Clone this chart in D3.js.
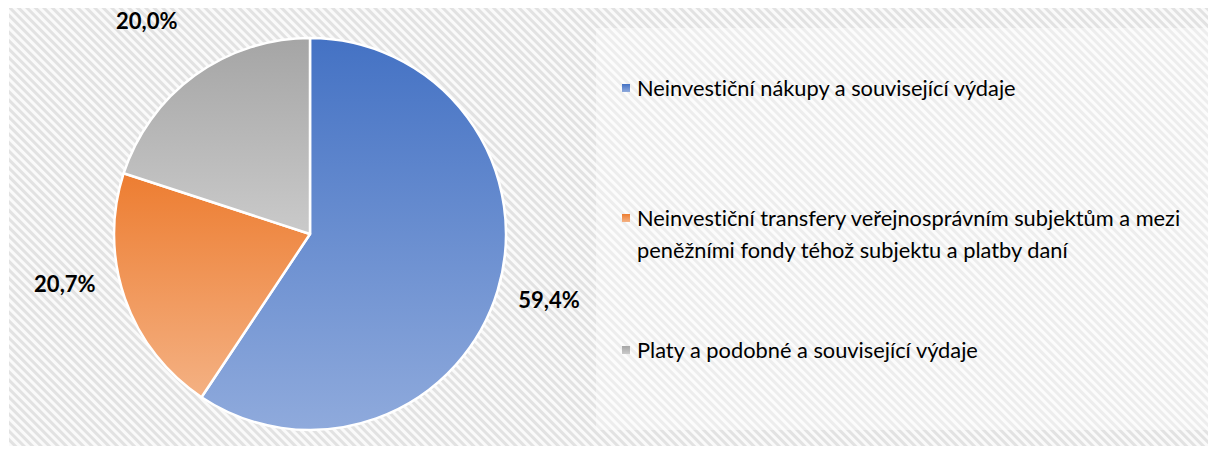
<!DOCTYPE html>
<html>
<head>
<meta charset="utf-8">
<script src="https://cdnjs.cloudflare.com/ajax/libs/d3/7.8.5/d3.min.js"></script>
<style>
  body { margin: 0; background: #fff; }
  svg { display: block; }
  text { font-variant-ligatures: none; }
</style>
</head>
<body>
<div id="chart"></div>
<script>
// data
var categories = ["Neinvestiční nákupy a související výdaje",
    "Neinvestiční transfery veřejnosprávním subjektům a mezi peněžními fondy téhož subjektu a platby daní",
    "Platy a podobné a související výdaje"];
var legendLines = [["Neinvestiční nákupy a související výdaje"],
    ["Neinvestiční transfery veřejnosprávním subjektům a mezi", "peněžními fondy téhož subjektu a platby daní"],
    ["Platy a podobné a související výdaje"]];
var values = [59.4, 20.7, 20.0];
var valueLabels = ["59,4%", "20,7%", "20,0%"];
var colorsTop = ["#4472C4", "#ED7D31", "#A5A5A5"];
var colorsBottom = ["#8FAADC", "#F4B183", "#CACACA"];

var width = 1216, height = 454;
var svg = d3.select("#chart").append("svg").attr("width", width).attr("height", height);
var defs = svg.append("defs");

// hatched background
var pat = defs.append("pattern")
    .attr("id", "hatch")
    .attr("patternUnits", "userSpaceOnUse")
    .attr("width", 6).attr("height", 6)
    .attr("patternTransform", "rotate(-45)");
pat.append("rect").attr("width", 6).attr("height", 6).attr("fill", "#fafafa");
pat.append("rect").attr("width", 3).attr("height", 6).attr("fill", "#e2e2e2");

svg.append("rect").attr("x", 9).attr("y", 8).attr("width", width - 17).attr("height", height - 16)
    .attr("fill", "url(#hatch)");

// lighter area behind legend
svg.append("rect").attr("x", 596).attr("y", 28).attr("width", 612).attr("height", 402)
    .attr("fill", "#fff").attr("opacity", 0.4);

// gradients
values.forEach(function(v, i){
    var g = defs.append("linearGradient").attr("id", "grad" + i)
        .attr("x1", 0).attr("y1", 0).attr("x2", 0).attr("y2", 1);
    g.append("stop").attr("offset", "0%").attr("stop-color", colorsTop[i]);
    g.append("stop").attr("offset", "100%").attr("stop-color", colorsBottom[i]);
});

var cx = 310, cy = 234, radius = 196;
var pie = d3.pie().sort(null).value(function(d){ return d; });
var arc = d3.arc().innerRadius(0).outerRadius(radius);
var arcs = pie(values);

var pieG = svg.append("g").attr("transform", "translate(" + cx + "," + cy + ")");
pieG.selectAll("path").data(arcs).enter().append("path")
    .attr("d", arc)
    .attr("fill", function(d, i){ return "url(#grad" + i + ")"; })
    .attr("stroke", "#fff")
    .attr("stroke-width", 2.5)
    .attr("stroke-linejoin", "round");

// data labels, outside the slices
var labelArc = d3.arc().innerRadius(radius + 36).outerRadius(radius + 36);
var labelOffsets = [[17, -2], [-26, -27], [-27, -26]];
pieG.selectAll("text.val").data(arcs).enter().append("text")
    .attr("class", "val")
    .attr("x", function(d, i){ return labelArc.centroid(d)[0] + labelOffsets[i][0]; })
    .attr("y", function(d, i){ return labelArc.centroid(d)[1] + labelOffsets[i][1]; })
    .attr("text-anchor", "middle")
    .attr("dominant-baseline", "central")
    .style("font-family", "Lato, sans-serif")
    .style("font-weight", "bold")
    .style("font-size", "22px")
    .attr("fill", "#000")
    .text(function(d, i){ return valueLabels[i]; });

// legend
var legendY = d3.scalePoint().domain(categories).range([88, 350]);
var legend = svg.append("g").selectAll("g").data(categories).enter().append("g")
    .attr("transform", function(d, i){
        var y = legendY(d);
        if (i == 1) y = 218;
        return "translate(622," + y + ")";
    });
legend.append("rect")
    .attr("x", 0).attr("y", -4).attr("width", 8).attr("height", 8)
    .attr("fill", function(d, i){ return "url(#grad" + i + ")"; });
legend.append("text")
    .attr("x", 15)
    .attr("y", 0)
    .style("font-family", "Lato, sans-serif")
    .style("font-size", "21.8px")
    .attr("fill", "#000")
    .selectAll("tspan").data(function(d, i){ return legendLines[i]; }).enter().append("tspan")
    .attr("x", 15)
    .attr("dy", function(d, j){ return j == 0 ? "0.35em" : "32px"; })
    .text(function(d){ return d; });
</script>
</body>
</html>
